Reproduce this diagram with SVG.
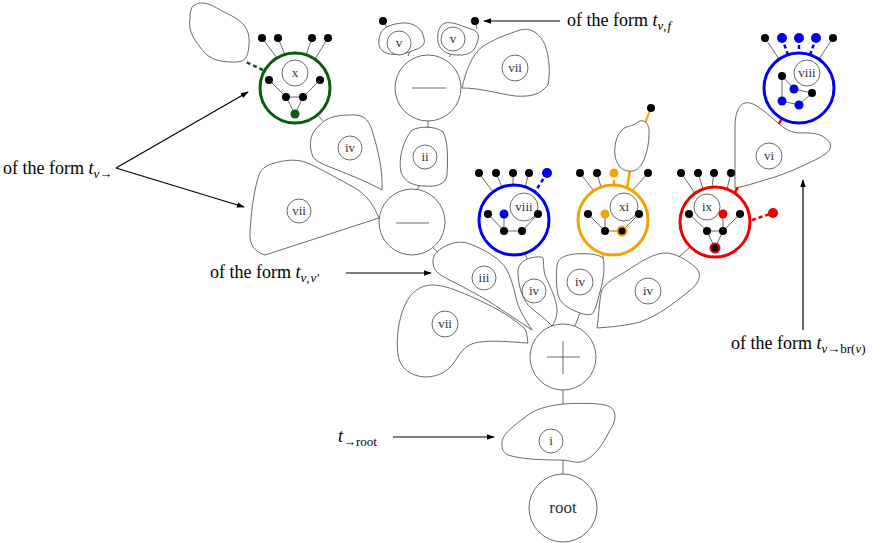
<svg xmlns="http://www.w3.org/2000/svg" width="872" height="543" viewBox="0 0 872 543">
<defs>
<style>
.b{fill:#fff;stroke:#444;stroke-width:0.8}
.c{fill:#fff;stroke:#444;stroke-width:0.8}
.l{fill:none;stroke:#444;stroke-width:0.8}
.t{font-family:"Liberation Serif","DejaVu Serif",serif;font-size:13px;fill:#333;text-anchor:middle}
.d{fill:#000}
.tx{font-family:"Liberation Serif","DejaVu Serif",serif;font-size:18px;fill:#000}
.s{font-size:13px}
.i{font-style:italic}
.a{fill:none;stroke:#000;stroke-width:1.2}
</style>
<marker id="ah" viewBox="0 0 10 10" refX="9" refY="5" markerWidth="8" markerHeight="8" markerUnits="userSpaceOnUse" orient="auto">
<path d="M0,1.5 L10,5 L0,8.5 Z" fill="#000"/>
</marker>
</defs>
<rect width="872" height="543" fill="#fff"/>

<g id="connectors">
<line class="l" x1="563" y1="474" x2="563" y2="460"/>
<line class="l" x1="563" y1="404" x2="563" y2="390"/>
<line class="l" x1="575" y1="326" x2="580" y2="313"/>
<line class="l" x1="432" y1="247" x2="440" y2="254"/>
<line class="l" x1="525" y1="255" x2="528" y2="260"/>
<line class="l" x1="603" y1="255" x2="603" y2="258"/>
<line class="l" x1="690" y1="247" x2="678" y2="258"/>
<line class="l" x1="428" y1="121" x2="428" y2="128"/>
<line class="l" x1="419" y1="186" x2="417" y2="190"/>
<line class="l" x1="317" y1="114" x2="323" y2="121"/>
<line class="l" x1="408" y1="56" x2="410" y2="51"/>
<line class="l" x1="449" y1="57" x2="451" y2="54"/>
<line class="l" x1="383" y1="21" x2="387" y2="28"/>
<line class="l" x1="475" y1="21" x2="477" y2="29"/>
<line x1="651" y1="108" x2="645" y2="123" style="stroke:#f5a300;stroke-width:2"/>
<line x1="627" y1="189" x2="630" y2="170" style="stroke:#f5a300;stroke-width:2.5"/>
<line x1="735" y1="192" x2="738" y2="187" style="stroke:#ee0000;stroke-width:2.5"/>
<line x1="782" y1="118" x2="777" y2="128" style="stroke:#ee0000;stroke-width:2.5"/>
<line x1="263" y1="70" x2="246" y2="62" style="stroke:#0a5c0a;stroke-width:2.5;stroke-dasharray:4,3"/>
<line x1="752" y1="220" x2="773" y2="213" style="stroke:#ee0000;stroke-width:2.5;stroke-dasharray:4,3"/>
<line class="a" x1="560" y1="21" x2="484" y2="21" marker-end="url(#ah)"/>
<line class="a" x1="116" y1="168" x2="248" y2="92" marker-end="url(#ah)"/>
<line class="a" x1="116" y1="168" x2="244" y2="207" marker-end="url(#ah)"/>
<line class="a" x1="346" y1="273" x2="431" y2="273" marker-end="url(#ah)"/>
<line class="a" x1="803" y1="330" x2="803" y2="180" marker-end="url(#ah)"/>
<line class="a" x1="393" y1="437" x2="494" y2="437" marker-end="url(#ah)"/>
</g>

<g id="blob-topleft"><path class="b" d="M193,6 C205,-2 215,8 228,14 C245,22 250,30 249,45 C248,58 245,63 232,62 C215,62 207,57 200,47 C193,38 188,30 190,18 C190,12 191,8 193,6 Z"/></g>

<g id="blob-v-left"><path class="b" d="M380,35 C382,27 392,24 402,23 C413,22 422,28 424,38 C426,46 420,48 412,51 C403,55 392,56 384,52 C378,48 378,42 380,35 Z"/><circle class="c" cx="399" cy="43" r="12"/><text class="t" x="399" y="47">v</text><circle class="d" cx="383" cy="21" r="4"/></g>

<g id="blob-v-right"><path class="b" d="M441,26 C445,20 455,23 465,27 C475,30 480,32 478,40 C475,50 472,54 462,55 C450,56 440,52 438,42 C437,35 438,30 441,26 Z"/><circle class="c" cx="453" cy="39" r="12"/><text class="t" x="453" y="43">v</text><circle class="d" cx="475" cy="21" r="4"/></g>

<g id="blob-vii-top"><path class="b" d="M462,88 C466,70 472,55 482,47 C492,40 505,35 520,30 C530,27 540,33 545,45 C550,58 550,75 548,85 C540,95 530,97 515,96 C495,93 480,88 462,88 Z"/><circle class="c" cx="515" cy="68" r="13"/><text class="t" x="515" y="72">vii</text></g>

<g id="minus-top"><circle class="c" cx="428" cy="88" r="33"/><line class="l" x1="412" y1="88" x2="446" y2="88"/></g>

<g id="blob-ii"><path class="b" d="M412,130 C420,126 436,126 443,132 C448,140 448,160 447,175 C446,185 435,187 425,186 C415,186 405,183 401,172 C398,160 403,140 412,130 Z"/><circle class="c" cx="425" cy="157" r="12"/><text class="t" x="425" y="161">ii</text></g>

<g id="blob-iv-ul"><path class="b" d="M313,157 C308,145 310,132 320,125 C326,118 335,115 350,115 C362,114 368,118 372,130 C378,150 383,170 382,190 C370,183 350,175 340,171 C325,165 318,163 313,157 Z"/><circle class="c" cx="350" cy="148" r="12"/><text class="t" x="350" y="152">iv</text></g>

<g id="blob-vii-left"><path class="b" d="M265,255 C255,252 249,245 250,232 C251,215 253,195 258,178 C260,170 265,165 275,163 C285,160 295,159 305,162 C320,168 340,180 355,188 C368,196 374,206 379,218 Z"/><circle class="c" cx="299" cy="211" r="12"/><text class="t" x="299" y="215">vii</text></g>

<g id="minus-low"><circle class="c" cx="412" cy="222" r="33"/><line class="l" x1="396" y1="223" x2="429" y2="223"/></g>

<g id="green-x">
<line class="l" x1="262" y1="38" x2="277" y2="58"/><line class="l" x1="278" y1="38" x2="285" y2="55"/><line class="l" x1="312" y1="38" x2="306" y2="55"/><line class="l" x1="328" y1="38" x2="315" y2="59"/>
<circle cx="295" cy="88" r="35" style="fill:#fff;stroke:#0a5c0a;stroke-width:3"/>
<circle class="c" cx="295" cy="73" r="13"/><text class="t" x="295" y="77">x</text>
<path class="l" d="M269,80 L286,97 L303,97 L320,80 M286,97 L295,114 L303,97"/>
<circle class="d" cx="262" cy="38" r="4"/><circle class="d" cx="278" cy="38" r="4"/><circle class="d" cx="312" cy="38" r="4"/><circle class="d" cx="328" cy="38" r="4"/>
<circle class="d" cx="269" cy="80" r="4"/><circle class="d" cx="320" cy="80" r="4"/><circle class="d" cx="286" cy="97" r="4"/><circle class="d" cx="303" cy="97" r="4"/>
<circle cx="295" cy="114" r="4.5" fill="#0a5c0a"/>
</g>

<g id="blob-iii"><path class="b" d="M433,262 C432,255 440,248 448,245 C455,242 462,241 470,244 C485,250 500,258 507,270 C513,282 515,295 518,305 C522,315 527,322 532,330 C520,322 505,312 490,302 C470,290 455,283 442,276 C436,272 433,268 433,262 Z"/><circle class="c" cx="484" cy="278" r="12"/><text class="t" x="484" y="282">iii</text></g>

<g id="blob-vii-low"><path class="b" d="M528,343 C510,342 495,340 480,342 C470,343 463,348 457,358 C450,370 440,377 425,377 C410,376 400,368 398,355 C396,340 398,320 405,305 C410,293 420,285 432,285 C445,285 455,290 470,296 C490,305 510,315 525,329 C528,335 527,340 528,343 Z"/><circle class="c" cx="445" cy="324" r="13"/><text class="t" x="445" y="328">vii</text></g>

<g id="blob-iv-a"><path class="b" d="M518,272 C518,265 523,260 530,258 C535,257 541,256 543,258 C544,262 543,268 545,275 C550,287 557,300 557,310 C557,318 554,323 552,326 C545,318 535,312 528,305 C522,297 518,285 518,272 Z"/><circle class="c" cx="534" cy="291" r="12"/><text class="t" x="534" y="295">iv</text></g>

<g id="blob-iv-b"><path class="b" d="M557,265 C558,258 565,255 575,254 C588,253 598,254 603,258 C605,265 604,278 600,292 C597,302 596,310 592,314 C586,316 580,313 575,311 C568,308 560,303 558,295 C556,285 556,275 557,265 Z"/><circle class="c" cx="580" cy="282" r="13"/><text class="t" x="580" y="286">iv</text></g>

<g id="blob-iv-c"><path class="b" d="M597,328 C599,315 599,300 602,290 C606,282 615,278 625,272 C640,262 655,252 668,253 C680,255 690,262 698,270 C702,278 697,285 688,292 C675,302 660,315 640,322 C625,326 610,327 597,328 Z"/><circle class="c" cx="648" cy="291" r="13"/><text class="t" x="648" y="295">iv</text></g>

<g id="plus"><circle class="c" cx="563" cy="357" r="33"/><path class="l" d="M547,357 H580 M563,341 V374"/></g>

<g id="blob-i"><path class="b" d="M502,445 C500,435 515,425 528,415 C535,410 545,406 563,404 C578,403 595,403 605,405 C618,408 617,420 610,430 C605,440 600,448 595,453 C588,460 582,463 575,462 C568,461 565,460 560,460 C540,460 520,459 508,455 C503,452 502,449 502,445 Z"/><circle class="c" cx="551" cy="441" r="12"/><text class="t" x="551" y="445">i</text></g>

<g id="root"><circle class="c" cx="563" cy="508" r="34"/><text class="t" x="563" y="513" style="font-size:17px">root</text></g>

<g id="blue-viii-mid">
<line class="l" x1="479" y1="173" x2="493" y2="192"/><line class="l" x1="496" y1="173" x2="502" y2="187"/><line class="l" x1="513" y1="173" x2="513" y2="185"/><line class="l" x1="529" y1="173" x2="525" y2="187"/>
<line x1="547" y1="173" x2="535" y2="192" style="stroke:#0000ee;stroke-width:2.5;stroke-dasharray:4,3"/>
<circle cx="514" cy="220" r="35" style="fill:#fff;stroke:#0000ee;stroke-width:3"/>
<circle class="c" cx="524" cy="207" r="14"/><text class="t" x="524" y="211">viii</text>
<path class="l" d="M488,214 L504,231 L522,231 L538,214 M504,214 V231"/>
<circle class="d" cx="479" cy="173" r="4"/><circle class="d" cx="496" cy="173" r="4"/><circle class="d" cx="513" cy="173" r="4"/><circle class="d" cx="529" cy="173" r="4"/><circle cx="547" cy="173" r="5" fill="#0000ee"/>
<circle class="d" cx="488" cy="214" r="4"/><circle cx="504" cy="214" r="4.5" fill="#0000ee"/><circle class="d" cx="538" cy="214" r="4"/><circle class="d" cx="504" cy="231" r="4"/><circle class="d" cx="522" cy="231" r="4"/>
</g>

<g id="blob-orange-child"><path class="b" d="M621,131 C626,125 633,127 638,122 C644,118 650,124 649,134 C649,144 647,152 644,160 C640,168 636,172 628,171 C621,170 616,164 615,155 C614,146 616,137 621,131 Z"/><circle class="d" cx="651" cy="108" r="4"/></g>

<g id="orange-xi">
<line class="l" x1="580" y1="173" x2="594" y2="191"/><line class="l" x1="597" y1="173" x2="601" y2="187"/><line class="l" x1="648" y1="173" x2="632" y2="191"/>
<line x1="614" y1="173" x2="614" y2="185" style="stroke:#f5a300;stroke-width:2.5;stroke-dasharray:4,3"/>
<circle cx="613" cy="220" r="35" style="fill:#fff;stroke:#f5a300;stroke-width:3"/>
<circle class="c" cx="624" cy="207" r="14"/><text class="t" x="624" y="211">xi</text>
<path class="l" d="M588,214 L605,231 L622,231 L639,214 M605,214 V231"/>
<circle class="d" cx="580" cy="173" r="4"/><circle class="d" cx="597" cy="173" r="4"/><circle cx="614" cy="173" r="4.5" fill="#f5a300"/><circle class="d" cx="648" cy="173" r="4"/>
<circle class="d" cx="588" cy="214" r="4"/><circle cx="605" cy="214" r="4.5" fill="#f5a300"/><circle class="d" cx="639" cy="214" r="4"/><circle class="d" cx="605" cy="231" r="4"/><circle cx="622" cy="231" r="4.5" fill="#000" style="stroke:#f5a300;stroke-width:2"/>
</g>

<g id="blob-vi"><path class="b" d="M735,188 L735,125 C735,115 738,105 745,103 C752,101 760,108 770,116 C780,125 788,133 800,133 C815,132 825,135 830,143 C833,150 825,155 815,160 C800,167 790,172 775,177 C760,181 748,186 735,188 Z"/><circle class="c" cx="769" cy="156" r="13"/><text class="t" x="769" y="160">vi</text></g>

<g id="red-ix">
<line class="l" x1="681" y1="173" x2="695" y2="193"/><line class="l" x1="698" y1="173" x2="703" y2="189"/><line class="l" x1="714" y1="173" x2="712" y2="187"/><line class="l" x1="731" y1="173" x2="727" y2="189"/>
<circle cx="715" cy="222" r="35" style="fill:#fff;stroke:#ee0000;stroke-width:3"/>
<circle class="c" cx="707" cy="207" r="13"/><text class="t" x="707" y="211">ix</text>
<path class="l" d="M689,214 L707,231 L723,231 L740,214 M723,214 V231 M707,231 L715,248 L723,231"/>
<circle class="d" cx="681" cy="173" r="4"/><circle class="d" cx="698" cy="173" r="4"/><circle class="d" cx="714" cy="173" r="4"/><circle class="d" cx="731" cy="173" r="4"/>
<circle class="d" cx="689" cy="214" r="4"/><circle cx="723" cy="214" r="4.5" fill="#ee0000"/><circle class="d" cx="740" cy="214" r="4"/><circle class="d" cx="707" cy="231" r="4"/><circle class="d" cx="723" cy="231" r="4"/>
<circle cx="715" cy="248" r="4.5" fill="#000" style="stroke:#ee0000;stroke-width:2"/>
<circle cx="773" cy="213" r="5" fill="#ee0000"/>
</g>

<g id="blue-viii-top">
<line class="l" x1="765" y1="38" x2="779" y2="59"/><line class="l" x1="833" y1="38" x2="819" y2="59"/>
<line x1="782" y1="38" x2="788" y2="55" style="stroke:#0000ee;stroke-width:2.5;stroke-dasharray:4,3"/>
<line x1="799" y1="38" x2="799" y2="53" style="stroke:#0000ee;stroke-width:2.5;stroke-dasharray:4,3"/>
<line x1="816" y1="38" x2="810" y2="55" style="stroke:#0000ee;stroke-width:2.5;stroke-dasharray:4,3"/>
<circle cx="799" cy="88" r="35" style="fill:#fff;stroke:#0000ee;stroke-width:3"/>
<circle class="c" cx="807" cy="73" r="13"/><text class="t" x="807" y="77">viii</text>
<path class="l" d="M782,76 V101 L799,105 L812,93 L794,89 L782,76"/>
<circle class="d" cx="765" cy="38" r="4"/><circle cx="782" cy="38" r="5" fill="#0000ee"/><circle cx="799" cy="38" r="5" fill="#0000ee"/><circle cx="816" cy="38" r="5" fill="#0000ee"/><circle class="d" cx="833" cy="38" r="4"/>
<circle class="d" cx="782" cy="76" r="4"/><circle cx="794" cy="89" r="4.5" fill="#0000ee"/><circle class="d" cx="812" cy="93" r="4"/><circle cx="782" cy="101" r="4.5" fill="#0000ee"/><circle cx="799" cy="105" r="4.5" fill="#0000ee"/>
</g>

<g id="labels">
<text class="tx" x="567" y="26">of the form <tspan class="i">t</tspan><tspan class="i s" dy="4">v</tspan><tspan class="s">,</tspan><tspan class="i s" dx="1">f</tspan></text>
<text class="tx" x="3" y="174">of the form <tspan class="i">t</tspan><tspan class="i s" dy="4">v</tspan><tspan class="s">→</tspan></text>
<text class="tx" x="210" y="278">of the form <tspan class="i">t</tspan><tspan class="i s" dy="4">v</tspan><tspan class="s">,</tspan><tspan class="i s" dx="1">v′</tspan></text>
<text class="tx" x="731" y="349">of the form <tspan class="i">t</tspan><tspan class="i s" dy="4">v</tspan><tspan class="s">→br(</tspan><tspan class="i s">v</tspan><tspan class="s">)</tspan></text>
<text class="tx" x="338" y="442"><tspan class="i">t</tspan><tspan class="s" dy="4">→root</tspan></text>
</g>
</svg>
